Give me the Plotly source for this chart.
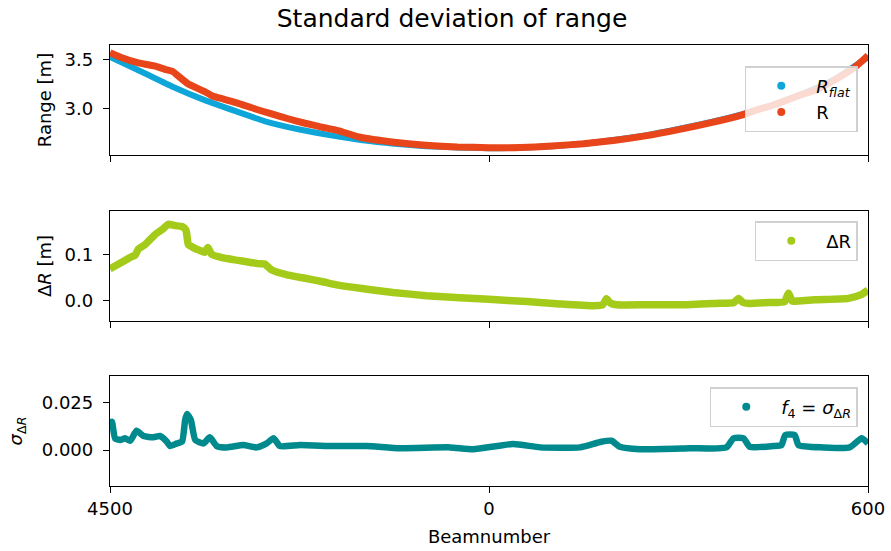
import plotly.graph_objects as go

# ---------------- data ----------------
beam_tickvals = [-600, 0, 600]
beam_ticktext = ["4500", "0", "600"]

rflat_x = [-600, -550, -500, -450, -400, -350, -300, -250, -200, -150, -100, -50,
           0, 50, 100, 150, 200, 250, 300, 350, 400, 450, 500, 550, 600]
rflat_y = [3.53, 3.38, 3.225, 3.09, 2.975, 2.865, 2.79, 2.73, 2.68, 2.645, 2.62, 2.607,
           2.60, 2.605, 2.62, 2.645, 2.685, 2.733, 2.795, 2.865, 2.945, 3.045, 3.165, 3.315, 3.53]

r_x = [-600, -580, -555, -530, -513, -500, -492, -476, -450, -438, -420, -397, -370,
       -344, -318, -291, -265, -239, -204, -150, -100, -50, 0, 50, 100, 150, 200,
       250, 300, 350, 400, 429, 450, 500, 516, 550, 580, 600]
r_y = [3.575, 3.52, 3.47, 3.44, 3.405, 3.38, 3.337, 3.255, 3.177, 3.133, 3.10, 3.058, 3.00,
       2.949, 2.90, 2.854, 2.815, 2.779, 2.711, 2.66, 2.63, 2.612, 2.605, 2.607, 2.622, 2.646, 2.681,
       2.728, 2.789, 2.858, 2.938, 3.00, 3.038, 3.158, 3.19, 3.305, 3.43, 3.545]

dr_x = [-600, -597, -580, -566, -560, -555, -545, -529, -515, -508, -497, -486, -480,
        -478, -476, -468, -460, -450, -445, -439, -423, -397, -375, -365, -355, -344,
        -318, -291, -265, -239, -204, -152, -99, -46, 0, 60, 112, 165, 180, 186, 192,
        202, 252, 305, 358, 388, 395, 402, 411, 442, 468, 474, 480, 484, 516, 569, 590, 600]
dr_y = [0.070, 0.072, 0.085, 0.096, 0.100, 0.113, 0.122, 0.144, 0.158, 0.167, 0.164, 0.162, 0.155,
        0.140, 0.123, 0.116, 0.111, 0.106, 0.116, 0.101, 0.094, 0.088, 0.083, 0.081, 0.080, 0.067,
        0.056, 0.049, 0.042, 0.034, 0.027, 0.018, 0.011, 0.0066, 0.003, -0.002, -0.007, -0.011, -0.009, 0.004, -0.005,
        -0.009, -0.009, -0.009, -0.006, -0.004, 0.005, -0.004, -0.006, -0.004, -0.002, 0.016, -0.001, -0.001, 0.002, 0.005, 0.014, 0.023]

sd_x = [-600, -597, -592, -584, -576, -568, -558, -547, -531, -521, -510, -505, -494,
        -486, -481, -478, -472, -465, -452, -442, -431, -415, -389, -368, -352, -341,
        -331, -299, -246, -194, -141, -62, -25, 38, 81, 144, 178, 194, 207, 239, 318,
        376, 387, 403, 413, 450, 463, 469, 484, 490, 529, 571, 590, 600]
sd_y = [0.013, 0.015, 0.0062, 0.0053, 0.0062, 0.0049, 0.0102, 0.0074, 0.0067, 0.0074, 0.0044, 0.0021, 0.0035,
        0.0044, 0.0159, 0.019, 0.0159, 0.0053, 0.0035, 0.0067, 0.0021, 0.0014, 0.0026, 0.0014, 0.0035, 0.0062,
        0.0021, 0.0026, 0.0021, 0.0021, 0.0009, 0.0014, 0.0004, 0.0032, 0.0014, 0.0014, 0.0044, 0.0049, 0.0017, 0.0004, 0.0009,
        0.0014, 0.0062, 0.0062, 0.0017, 0.0021, 0.0026, 0.0079, 0.0079, 0.0026, 0.0014, 0.0014, 0.0062, 0.0035]

C_BLUE = "#0ea5d9"
C_ORANGE = "#e8451b"
C_GREEN = "#a4cb19"
C_TEAL = "#008a8e"

FONT = "DejaVu Sans"
FS = 18

fig = go.Figure()

def add_series(x, y, color, name, xa, ya, legend, width=6):
    fig.add_trace(go.Scatter(x=x, y=y, mode="lines",
                             line=dict(color=color, width=width, shape="spline", smoothing=0.5),
                             xaxis=xa, yaxis=ya, showlegend=False, hoverinfo="skip"))
    fig.add_trace(go.Scatter(x=[None], y=[None], mode="markers", name=name,
                             marker=dict(color=color, size=8), xaxis=xa, yaxis=ya,
                             legend=legend, showlegend=True))

add_series(rflat_x, rflat_y, C_BLUE, "<i>R</i><sub><i>flat</i></sub>", "x", "y", "legend", 6)
add_series(r_x, r_y, C_ORANGE, "R", "x", "y", "legend", 7)
add_series(dr_x, dr_y, C_GREEN, "ΔR", "x2", "y2", "legend2", 7.5)
add_series(sd_x, sd_y, C_TEAL, "<i>f</i><sub>4</sub> = <i>σ</i><sub>Δ<i>R</i></sub>", "x3", "y3", "legend3", 6.5)

axis_common = dict(showline=True, linecolor="black", linewidth=1.3, mirror=True,
                   ticks="outside", ticklen=6, tickwidth=1.3, tickcolor="black",
                   showgrid=False, zeroline=False, automargin=False,
                   tickfont=dict(family=FONT, size=FS, color="black"))

xcommon = dict(axis_common, range=[-600, 600], tickvals=beam_tickvals, ticktext=beam_ticktext)
ycommon = dict(axis_common, ticklabelstandoff=6)

H = 441.0
def dom(top_px, bot_px):
    return [(486 - bot_px) / H, (486 - top_px) / H]

leg_common = dict(bgcolor="rgba(255,255,255,0.8)", bordercolor="#d0d0d0", borderwidth=1.5,
                  font=dict(family=FONT, size=FS, color="black"),
                  xanchor="right", yanchor="top", itemwidth=60, tracegroupgap=6)

fig.update_layout(
    width=891, height=551,
    margin=dict(l=110, r=23, t=45, b=65, autoexpand=False),
    paper_bgcolor="white", plot_bgcolor="white",
    font=dict(family=FONT, size=FS, color="black"),
    title=dict(text="Standard deviation of range", x=452 / 891, xanchor="center",
               y=1 - 18 / 551, yanchor="middle", font=dict(family=FONT, size=25, color="black")),
    xaxis=dict(xcommon, domain=[0, 1], anchor="y", showticklabels=False),
    xaxis2=dict(xcommon, domain=[0, 1], anchor="y2", matches="x", showticklabels=False),
    xaxis3=dict(xcommon, domain=[0, 1], anchor="y3", matches="x",
                title=dict(text="Beamnumber", font=dict(family=FONT, size=FS), standoff=12)),
    yaxis=dict(ycommon, domain=dom(45, 155), anchor="x", range=[2.53, 3.653],
               tickvals=[3.0, 3.5], ticktext=["3.0", "3.5"],
               title=dict(text="Range [m]", font=dict(family=FONT, size=FS), standoff=8)),
    yaxis2=dict(ycommon, domain=dom(211, 321), anchor="x2", range=[-0.0444, 0.196],
                tickvals=[0.0, 0.1], ticktext=["0.0", "0.1"],
                title=dict(text="Δ<i>R</i> [m]", font=dict(family=FONT, size=FS), standoff=8)),
    yaxis3=dict(ycommon, domain=dom(376, 486), anchor="x3", range=[-0.019, 0.0391],
                tickvals=[0.0, 0.025], ticktext=["0.000", "0.025"],
                title=dict(text="<i>σ</i><sub>Δ<i>R</i></sub>", font=dict(family=FONT, size=FS), standoff=14)),
    legend=dict(leg_common, x=0.9865, y=(486 - 66) / H),
    legend2=dict(leg_common, x=0.9865, y=(486 - 221) / H),
    legend3=dict(leg_common, x=0.9865, y=(486 - 387) / H),
)

fig.write_html("out.html")
